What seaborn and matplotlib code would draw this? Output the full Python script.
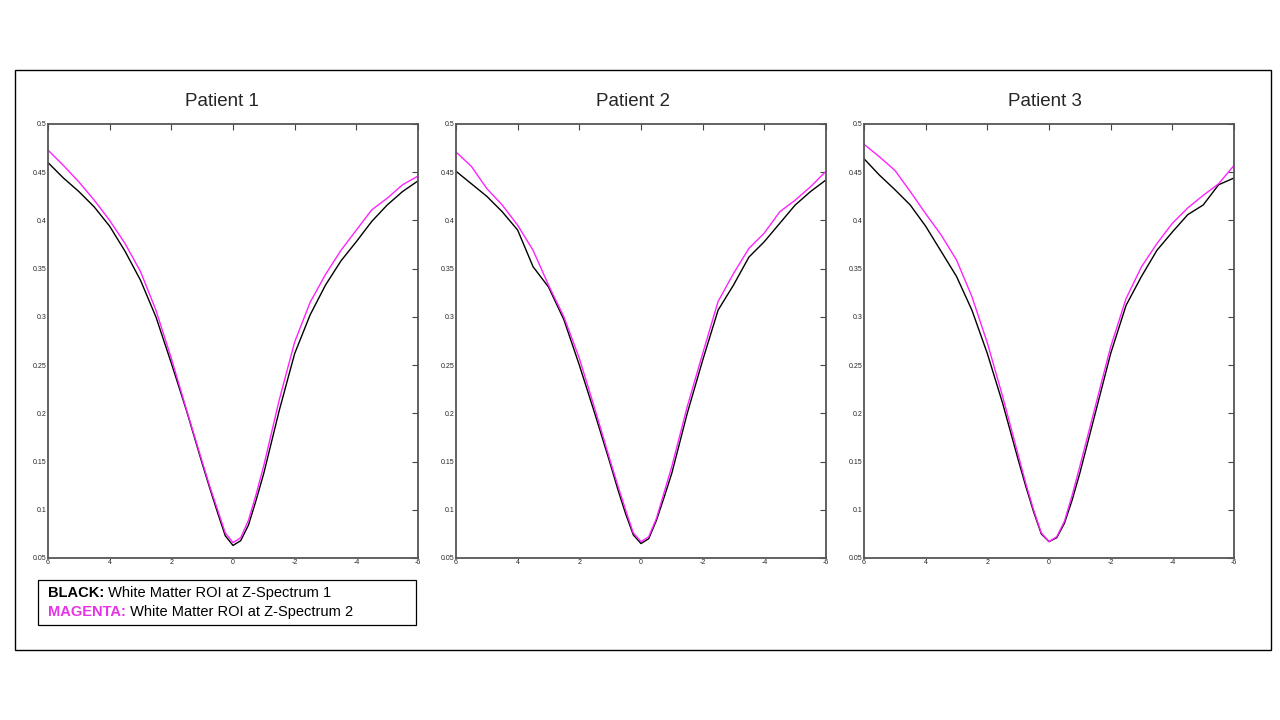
import numpy as np
import pandas as pd
import seaborn as sns
import matplotlib.pyplot as plt
from matplotlib.patches import Rectangle

sns.set_style('white')
plt.rcParams['font.family'] = ['Liberation Sans', 'DejaVu Sans']

# frequency offsets (ppm), x axis runs from 6 down to -6
offsets = [6, 5.5, 5, 4.5, 4, 3.5, 3, 2.5, 2, 1.5, 1, 0.75, 0.5, 0.25, 0,
           -0.25, -0.5, -0.75, -1, -1.5, -2, -2.5, -3, -3.5, -4, -4.5, -5, -5.5, -6]

p1_black = [0.460, 0.444, 0.430, 0.414, 0.394, 0.368, 0.338, 0.300, 0.252, 0.202, 0.148, 0.122,
            0.097, 0.073, 0.063, 0.068, 0.084, 0.110, 0.138, 0.203, 0.262, 0.302, 0.333, 0.358,
            0.378, 0.399, 0.416, 0.430, 0.441]
p1_magenta = [0.473, 0.457, 0.440, 0.421, 0.400, 0.376, 0.347, 0.307, 0.257, 0.203, 0.150, 0.124,
              0.100, 0.076, 0.066, 0.071, 0.089, 0.116, 0.146, 0.214, 0.274, 0.315, 0.344, 0.369,
              0.390, 0.411, 0.423, 0.437, 0.446]

p2_black = [0.451, 0.438, 0.425, 0.409, 0.390, 0.352, 0.331, 0.297, 0.250, 0.200, 0.148, 0.121,
            0.096, 0.074, 0.065, 0.070, 0.089, 0.113, 0.138, 0.200, 0.255, 0.307, 0.333, 0.362,
            0.378, 0.397, 0.416, 0.430, 0.442]
p2_magenta = [0.471, 0.456, 0.433, 0.416, 0.395, 0.369, 0.333, 0.300, 0.257, 0.205, 0.151, 0.125,
              0.100, 0.076, 0.067, 0.072, 0.091, 0.118, 0.145, 0.207, 0.262, 0.316, 0.345, 0.371,
              0.387, 0.409, 0.421, 0.435, 0.451]

p3_black = [0.464, 0.447, 0.432, 0.416, 0.394, 0.368, 0.342, 0.307, 0.262, 0.210, 0.152, 0.124,
            0.098, 0.075, 0.067, 0.071, 0.086, 0.110, 0.138, 0.200, 0.262, 0.312, 0.342, 0.369,
            0.388, 0.406, 0.416, 0.437, 0.444]
p3_magenta = [0.479, 0.466, 0.452, 0.430, 0.407, 0.385, 0.359, 0.321, 0.273, 0.217, 0.157, 0.127,
              0.100, 0.076, 0.067, 0.072, 0.088, 0.115, 0.145, 0.207, 0.269, 0.319, 0.352, 0.376,
              0.397, 0.413, 0.426, 0.438, 0.457]

titles = ['Patient 1', 'Patient 2', 'Patient 3']
black_series = [p1_black, p2_black, p3_black]
magenta_series = [p1_magenta, p2_magenta, p3_magenta]

xticks = [6, 4, 2, 0, -2, -4, -6]
xtick_labels = ['6', '4', '2', '0', '-2', '-4', '-6']
yticks = [0.05, 0.1, 0.15, 0.2, 0.25, 0.3, 0.35, 0.4, 0.45, 0.5]
ytick_labels = ['0.05', '0.1', '0.15', '0.2', '0.25', '0.3', '0.35', '0.4', '0.45', '0.5']

fig = plt.figure(figsize=(12.8, 7.2), dpi=100)

# outer frame
fig.patches.append(Rectangle((15 / 1280, 1 - 650 / 720), 1256 / 1280, 580 / 720,
                             transform=fig.transFigure, fill=False, ec='black', lw=1.0))

lefts = [48, 456, 864]
title_x = [222, 633, 1045]
for i in range(3):
    ax = fig.add_axes([lefts[i] / 1280, 1 - 558 / 720, 370 / 1280, 434 / 720])
    df = pd.DataFrame({'offset': offsets, 'black': black_series[i], 'magenta': magenta_series[i]})
    sns.lineplot(data=df, x='offset', y='black', ax=ax, color='black', lw=1.0, sort=False)
    sns.lineplot(data=df, x='offset', y='magenta', ax=ax, color='#ff22ff', lw=1.0, sort=False)
    ax.set_xlim(6, -6)
    ax.set_ylim(0.05, 0.5)
    ax.set_xticks(xticks)
    ax.set_xticklabels(xtick_labels)
    ax.set_yticks(yticks)
    ax.set_yticklabels(ytick_labels)
    ax.set_xlabel('')
    ax.set_ylabel('')
    ax.tick_params(direction='in', length=4, width=0.8, labelsize=5, pad=1,
                   top=True, right=True, color='#444444')
    for s in ax.spines.values():
        s.set_color('#555555')
        s.set_linewidth(1.3)
    fig.text(title_x[i] / 1280, 1 - 102 / 720, titles[i], fontsize=13.5,
             ha='center', va='center')

# legend box
fig.patches.append(Rectangle((38 / 1280, 1 - 625 / 720), 378 / 1280, 45 / 720,
                             transform=fig.transFigure, fill=False, ec='black', lw=0.9))
t1 = fig.text(48 / 1280, 1 - 593 / 720, 'BLACK:', fontsize=10.5, fontweight='bold',
              color='black', va='center')
plt.annotate(' White Matter ROI at Z-Spectrum 1', xy=(1, 0.5), xycoords=t1,
             va='center', ha='left', fontsize=10.5, color='black')
t2 = fig.text(48 / 1280, 1 - 612 / 720, 'MAGENTA:', fontsize=10.5, fontweight='bold',
              color='#e633e6', va='center')
plt.annotate(' White Matter ROI at Z-Spectrum 2', xy=(1, 0.5), xycoords=t2,
             va='center', ha='left', fontsize=10.5, color='black')

plt.savefig('out.png', dpi=100)
